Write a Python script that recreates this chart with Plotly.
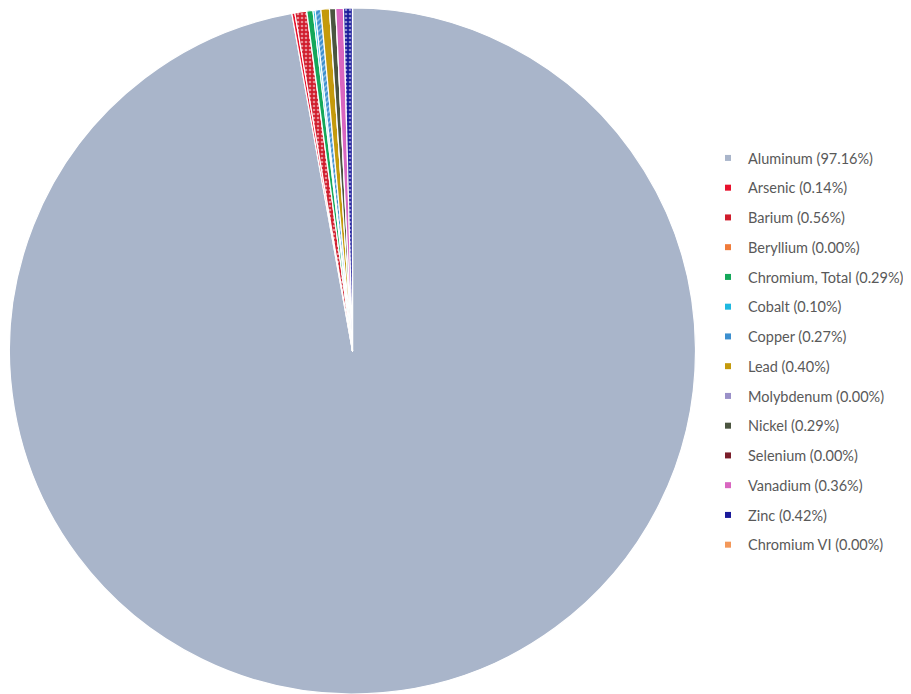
import plotly.graph_objects as go

elements = ["Aluminum", "Arsenic", "Barium", "Beryllium", "Chromium, Total", "Cobalt",
            "Copper", "Lead", "Molybdenum", "Nickel", "Selenium", "Vanadium", "Zinc", "Chromium VI"]
percents = [97.16, 0.14, 0.56, 0.00, 0.29, 0.10, 0.27, 0.40, 0.00, 0.29, 0.00, 0.36, 0.42, 0.00]
colors = ["#A9B5CA", "#E8112D", "#D01C2C", "#F07B3A", "#14A85A", "#1FB8E0",
          "#3C8FCF", "#C49A0C", "#9A90C8", "#4B5540", "#7A1E2A", "#D966C0", "#1A1A9A", "#F3985A"]
patterns = ["", "", ".", "", "", "", "/", "", "|", "", "", "", ".", ""]

labels = [f"{e} ({p:.2f}%)" for e, p in zip(elements, percents)]

fig = go.Figure()
fig.add_trace(go.Pie(
    labels=labels, values=percents, sort=False, direction="clockwise", rotation=0,
    textinfo="none", hoverinfo="label", showlegend=False,
    marker=dict(colors=colors, line=dict(color="white", width=1.2),
                pattern=dict(shape=patterns, fgcolor="white", size=4, solidity=0.35,
                             fillmode="overlay")),
    domain=dict(x=[0, 689/911], y=[8/694, 1]),
))

for i, (lab, col) in enumerate(zip(labels, colors)):
    fig.add_trace(go.Scatter(
        x=[None], y=[None], mode="markers", name=lab, legendgroup=f"g{i}",
        marker=dict(symbol="square", size=6, color=col),
    ))

fig.update_layout(
    width=911, height=694, margin=dict(l=0, r=0, t=0, b=0),
    paper_bgcolor="white", plot_bgcolor="white",
    xaxis=dict(visible=False), yaxis=dict(visible=False),
    legend=dict(x=700/911, xanchor="left", y=1 - 134/694, yanchor="top",
                font=dict(family="Lato, Open Sans, sans-serif", size=14.5, color="#595959"),
                tracegroupgap=7.9, itemwidth=30, bgcolor="rgba(0,0,0,0)"),
    showlegend=True,
)

fig.write_html("out.html")
